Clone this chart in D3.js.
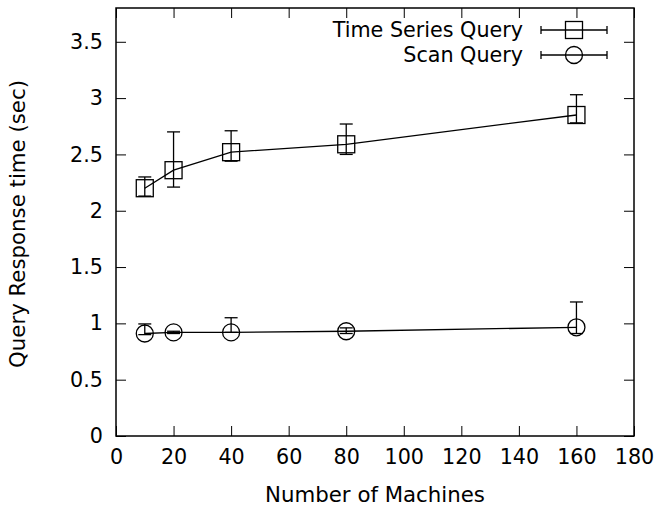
<!DOCTYPE html>
<html>
<head>
<meta charset="utf-8">
<script src="https://cdn.jsdelivr.net/npm/d3@7"></script>
<style>
  body { margin: 0; background: #fff; }
  text { font-family: "DejaVu Sans", sans-serif; fill: #000; }
</style>
</head>
<body>
<div id="chart"></div>
<script>
var machines = [10, 20, 40, 80, 160];

var tsMean = [2.20, 2.36, 2.52, 2.59, 2.85];
var tsLow  = [2.13, 2.21, 2.44, 2.50, 2.78];
var tsHigh = [2.30, 2.70, 2.71, 2.77, 3.03];

var scanMean = [0.91, 0.92, 0.92, 0.93, 0.965];
var scanLow  = [0.90, 0.91, 0.92, 0.91, 0.91];
var scanHigh = [0.995, 0.93, 1.05, 0.96, 1.19];

var xTicks = [0, 20, 40, 60, 80, 100, 120, 140, 160, 180];
var yTicks = [0, 0.5, 1, 1.5, 2, 2.5, 3, 3.5];
var seriesNames = ["Time Series Query", "Scan Query"];

var svgWidth = 670;
var svgHeight = 508;
var margin = {top: 8, right: 36, bottom: 72, left: 116},
    width = svgWidth - margin.left - margin.right,
    height = svgHeight - margin.top - margin.bottom;

var svg = d3.select("#chart").append("svg")
    .attr("width", svgWidth)
    .attr("height", svgHeight)
  .append("g")
    .attr("transform", "translate(" + margin.left + "," + margin.top + ")");

var x = d3.scaleLinear().domain([0, 180]).range([0, width]);
var y = d3.scaleLinear().domain([0, 3.8]).range([height, 0]);

var fontSize = "20.7px";
var tickLen = 10;

// gnuplot style ticks, pointing inwards, mirrored
function styleAxis(g) {
    g.select(".domain").remove();
    g.selectAll(".tick line").attr("stroke", "#000").attr("stroke-width", 1);
    g.selectAll(".tick text").style("font-size", fontSize);
}

svg.append("g")
    .attr("transform", "translate(0," + height + ")")
    .call(d3.axisBottom(x).tickValues(xTicks).tickFormat(d3.format("d"))
        .tickSizeInner(-tickLen).tickSizeOuter(0).tickPadding(13))
    .call(styleAxis);

svg.append("g")
    .call(d3.axisTop(x).tickValues(xTicks).tickFormat("")
        .tickSizeInner(-tickLen).tickSizeOuter(0))
    .call(styleAxis);

svg.append("g")
    .call(d3.axisLeft(y).tickValues(yTicks).tickFormat(d3.format("")) 
        .tickSizeInner(-tickLen).tickSizeOuter(0).tickPadding(13))
    .call(styleAxis);

svg.append("g")
    .attr("transform", "translate(" + width + ",0)")
    .call(d3.axisRight(y).tickValues(yTicks).tickFormat("")
        .tickSizeInner(-tickLen).tickSizeOuter(0))
    .call(styleAxis);

// frame
svg.append("rect")
    .attr("x", 0).attr("y", 0)
    .attr("width", width).attr("height", height)
    .attr("fill", "none")
    .attr("stroke", "#000")
    .attr("stroke-width", 1.5);

// axis labels
svg.append("text")
    .attr("x", width / 2)
    .attr("y", height + 66)
    .attr("text-anchor", "middle")
    .style("font-size", "21.3px")
    .text("Number of Machines");

svg.append("text")
    .attr("transform", "translate(" + (-91) + "," + (height / 2 + 2) + ") rotate(-90)")
    .attr("text-anchor", "middle")
    .style("font-size", "21.3px")
    .text("Query Response time (sec)");

var series = [
    {name: seriesNames[0], mean: tsMean, low: tsLow, high: tsHigh, marker: "square"},
    {name: seriesNames[1], mean: scanMean, low: scanLow, high: scanHigh, marker: "circle"}
];

var capW = 6.5;
var markR = 8.5;

function drawMarker(g, type, cx, cy) {
    if (type === "square") {
        g.append("rect")
            .attr("x", cx - markR).attr("y", cy - markR)
            .attr("width", markR * 2).attr("height", markR * 2)
            .attr("fill", "none").attr("stroke", "#000").attr("stroke-width", 1.3);
    } else {
        g.append("circle")
            .attr("cx", cx).attr("cy", cy).attr("r", markR)
            .attr("fill", "none").attr("stroke", "#000").attr("stroke-width", 1.3);
    }
}

var line = d3.line()
    .x(function(d) { return x(d[0]); })
    .y(function(d) { return y(d[1]); });

series.forEach(function(s) {
    var g = svg.append("g").attr("class", "series");
    var pts = machines.map(function(m, i) { return [m, s.mean[i]]; });

    g.append("path")
        .attr("d", line(pts))
        .attr("fill", "none")
        .attr("stroke", "#000")
        .attr("stroke-width", 1.3);

    machines.forEach(function(m, i) {
        var cx = x(m);
        g.append("line")
            .attr("x1", cx).attr("x2", cx)
            .attr("y1", y(s.low[i])).attr("y2", y(s.high[i]))
            .attr("stroke", "#000").attr("stroke-width", 1.3);
        [s.low[i], s.high[i]].forEach(function(v) {
            g.append("line")
                .attr("x1", cx - capW).attr("x2", cx + capW)
                .attr("y1", y(v)).attr("y2", y(v))
                .attr("stroke", "#000").attr("stroke-width", 1.3);
        });
        drawMarker(g, s.marker, cx, y(s.mean[i]));
    });
});

// legend
var legend = svg.append("g")
    .attr("transform", "translate(" + (width - 111) + ",22)");

series.forEach(function(s, i) {
    var row = legend.append("g").attr("transform", "translate(0," + (i * 25) + ")");
    row.append("text")
        .attr("x", 0)
        .attr("y", 0)
        .attr("dy", "0.35em")
        .attr("text-anchor", "end")
        .style("font-size", fontSize)
        .text(s.name);
    row.append("line")
        .attr("x1", 18).attr("x2", 84).attr("y1", 0).attr("y2", 0)
        .attr("stroke", "#000").attr("stroke-width", 1.3);
    [18, 84].forEach(function(v) {
        row.append("line")
            .attr("x1", v).attr("x2", v).attr("y1", -4).attr("y2", 4)
            .attr("stroke", "#000").attr("stroke-width", 1.3);
    });
    drawMarker(row, s.marker, 51, 0);
});
</script>
</body>
</html>
